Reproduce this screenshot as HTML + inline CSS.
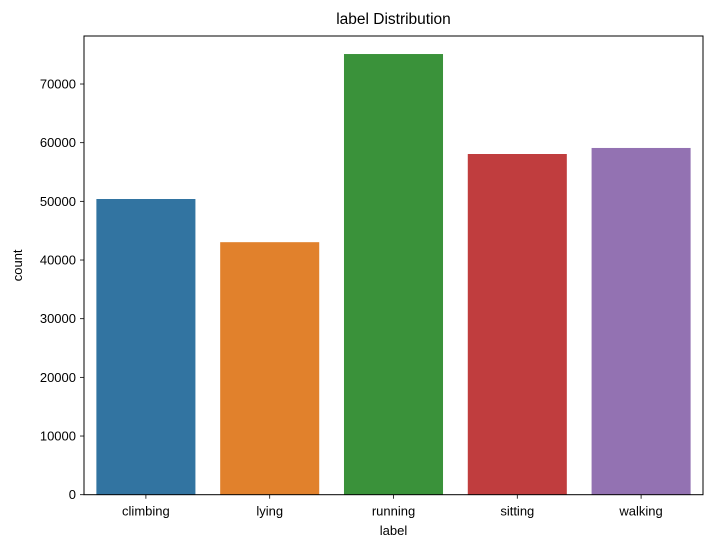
<!DOCTYPE html>
<html><head><meta charset="utf-8"><style>
body{margin:0;background:#fff;font-family:"Liberation Sans","DejaVu Sans",sans-serif;}
</style></head><body>
<svg id="chart" width="713" height="547" xmlns="http://www.w3.org/2000/svg"></svg>
<script>
const categories=["climbing","lying","running","sitting","walking"];
const counts=[50400,43040,75110,58070,59100];
const yTicks=[0,10000,20000,30000,40000,50000,60000,70000];
const colors=["#3274a1","#e1812c","#3a923a","#c03d3e","#9372b2"];
const L=84,R=703,T=36,B=494.7,yPer=58.67/10000;
const svg=document.getElementById('chart');
const NS="http://www.w3.org/2000/svg";
function y(v){return B-v*yPer;}
const band=(R-L)/categories.length;
function xc(i){return L+band*(i+0.5);}
function mk(tag,attrs,text){const e=document.createElementNS(NS,tag);for(const k in attrs)e.setAttribute(k,attrs[k]);if(text!==undefined)e.textContent=text;svg.appendChild(e);return e;}
categories.forEach((c,i)=>{
  const w=band*0.8;
  const r=mk('rect',{x:xc(i)-w/2,y:y(counts[i]),width:w,height:B-y(counts[i]),fill:colors[i]});
  
  
  const t=mk('line',{x1:xc(i),x2:xc(i),y1:B,y2:B+4,stroke:'#000','stroke-width':0.8});
  const lb=mk('text',{x:xc(i),y:B+21,'text-anchor':'middle','font-size':13,fill:'#000'},c);
  
  
});
yTicks.forEach(v=>{
  mk('line',{x1:L-4,x2:L,y1:y(v),y2:y(v),stroke:'#000','stroke-width':0.8});
  const lb=mk('text',{x:L-8,y:y(v)+4.5,'text-anchor':'end','font-size':13,fill:'#000'},String(v));
  
  
});
const fr=mk('rect',{x:L,y:T,width:R-L,height:B-T,fill:'none',stroke:'#000','stroke-width':1});


const ti=mk('text',{x:(L+R)/2,y:T-12,'text-anchor':'middle','font-size':15.5,fill:'#000'},'label Distribution');


const xt=mk('text',{x:(L+R)/2,y:535,'text-anchor':'middle','font-size':13,fill:'#000'},'label');


const yt=mk('text',{x:22,y:(T+B)/2,'text-anchor':'middle','font-size':13,fill:'#000',transform:'rotate(-90 22 '+((T+B)/2)+')'},'count');


</script>
</body></html>
